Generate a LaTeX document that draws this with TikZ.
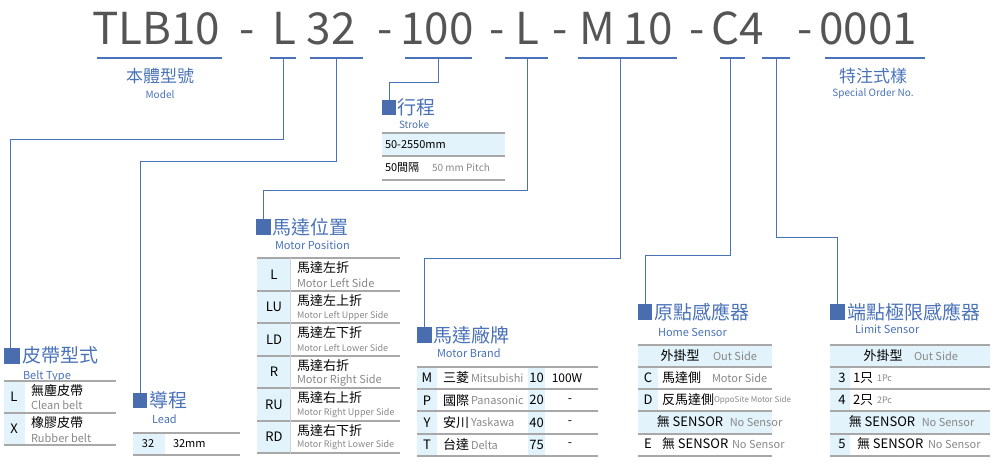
\documentclass[tikz,border=0pt]{standalone}
\usepackage{fontspec}
\setmainfont{Noto Sans CJK TC}
\begin{document}
\definecolor{bl}{HTML}{4A72B8}
\definecolor{sq}{HTML}{4A6DB0}
\definecolor{cell}{HTML}{E2F3FB}
\definecolor{rl}{HTML}{A8A8A8}
\definecolor{gt}{HTML}{888888}
\definecolor{tt}{HTML}{555555}
\begin{tikzpicture}[x=1pt,y=-1pt,
  every node/.style={inner sep=0pt,outer sep=0pt},
  ttl/.style={font=\fontsize{44}{44}\selectfont,text=tt,anchor=base},
  ul/.style={bl,line width=1.2pt},
  con/.style={bl,line width=1pt},
  head/.style={font=\fontsize{19}{19}\selectfont,text=bl,anchor=west},
  sub/.style={font=\fontsize{11}{11}\selectfont,text=bl,anchor=west},
  box/.style={fill=sq},
  rule/.style={rl,line width=1.3pt},
  tx/.style={font=\fontsize{13}{13}\selectfont,text=black},
  en/.style={font=\fontsize{11}{11}\selectfont,text=gt},
  ens/.style={font=\fontsize{9}{9}\selectfont,text=gt}]
\useasboundingbox (0,0) rectangle (1000,465);
% title
\node[ttl] (t1) at (156,45) {TLB10};
\node[ttl] (t2) at (247,45) {-};
\node[ttl] (t3) at (284,45) {L};
\node[ttl] (t4) at (331,45) {32};
\node[ttl] (t5) at (385,45) {-};
\node[ttl] (t6) at (437,45) {100};
\node[ttl] (t7) at (497,45) {-};
\node[ttl] (t8) at (527,45) {L};
\node[ttl] (t9) at (560,45) {-};
\node[ttl] (t10) at (597,45) {M};
\node[ttl] (t11) at (648,45) {10};
\node[ttl] (t12) at (697,45) {-};
\node[ttl] (t13) at (738,45) {C4};
\node[ttl] (t14) at (805,45) {-};
\node[ttl] (t15) at (868,45) {0001};
% underlines
\draw[ul] (97,58)--(222,58); \draw[ul] (270,58)--(296,58); \draw[ul] (310,58)--(363,58);
\draw[ul] (405,58)--(472,58); \draw[ul] (505,58)--(548,58); \draw[ul] (578,58)--(677,58);
\draw[ul] (720,58)--(745,58); \draw[ul] (762,58)--(790,58); \draw[ul] (825,58)--(925,58);
\node[font=\fontsize{17}{17}\selectfont,text=bl] (mdl) at (160,76) {本體型號};
\node[font=\fontsize{10}{10}\selectfont,text=bl] (mdle) at (160,95) {Model};
\node[font=\fontsize{17}{17}\selectfont,text=bl] (sp) at (873,76) {特注式樣};
\node[font=\fontsize{10}{10}\selectfont,text=bl] (spe) at (873,94) {Special Order No.};
% connectors
\coordinate (cL) at (283,58); \coordinate (c32) at (336,58); \coordinate (c100) at (438,58);
\coordinate (cL2) at (527,58); \coordinate (cM) at (620,58); \coordinate (cC) at (730,58); \coordinate (c4) at (776,58);
% Belt type
\fill[box] (4,348) rectangle (20,364); \coordinate (bt) at (10,348);
\node[head] (bth) at (22,355) {皮帶型式};
\node[sub] (bts) at (23,376) {Belt Type};
\draw[con] (cL)--(283,140)--(10,140)--(bt);
\fill[cell] (4,381) rectangle (25,445);
\draw[rule] (4,381)--(116,381) (4,413)--(116,413) (4,445)--(116,445);
\node[tx] at (14,397) {L}; \node[tx] at (14,429) {X};
\node[tx,anchor=west] at (31,391) {無塵皮帶}; \node[en,anchor=west] at (31,405) {Clean belt};
\node[tx,anchor=west] at (31,423) {橡膠皮帶}; \node[en,anchor=west] at (31,438) {Rubber belt};
% Lead
\fill[box] (133,393) rectangle (147,408); \coordinate (ld) at (140,393);
\node[head] (ldh) at (149,400) {導程}; \node[sub] (lds) at (152,419) {Lead};
\draw[con] (c32)--(336,162)--(140,162)--(ld);
\fill[cell] (133,433) rectangle (165,455);
\draw[rule] (133,433)--(240,433) (133,455)--(240,455);
\node[tx,font=\fontsize{11}{11}\selectfont] at (148,444) {32};
\node[tx,anchor=west,font=\fontsize{11}{11}\selectfont] at (173,444) {32mm};
% Stroke
\fill[box] (382,100) rectangle (396,115); \coordinate (st) at (389,100);
\node[head] (sth) at (397,107) {行程}; \node[sub,font=\fontsize{10}{10}\selectfont] (sts) at (399,125) {Stroke};
\draw[con] (c100)--(438,83)--(389,83)--(st);
\fill[cell] (382,133) rectangle (505,156);
\draw[rule] (382,133)--(505,133) (382,156)--(505,156) (382,180)--(505,180);
\node[anchor=west,font=\fontsize{11}{11}\selectfont] at (385,145) {50-2550mm};
\node[anchor=west,font=\fontsize{11}{11}\selectfont] (p50) at (385,168) {50間隔};
\node[ens,anchor=west,font=\fontsize{10}{10}\selectfont] at (432,168) {50 mm Pitch};
% Motor position
\fill[box] (256,219) rectangle (271,235); \coordinate (mp) at (263,219);
\node[head] (mph) at (272,227) {馬達位置}; \node[sub] (mps) at (275,245) {Motor Position};
\draw[con] (cL2)--(527,190)--(263,190)--(mp);
\fill[cell] (257,258) rectangle (290,453);
\foreach \y in {258,291,323,356,388,421,453} \draw[rule] (257,\y)--(400,\y);
\draw[rl!50,line width=0.8pt] (290,258)--(290,453);
\foreach \c/\a/\b/\s [count=\i from 0] in {L/馬達左折/Motor Left Side/en,LU/馬達左上折/Motor Left Upper Side/ens,LD/馬達左下折/Motor Left Lower Side/ens,R/馬達右折/Motor Right Side/en,RU/馬達右上折/Motor Right Upper Side/ens,RD/馬達右下折/Motor Right Lower Side/ens}{
  \node[tx] at (274,274.5+32.5*\i) {\c};
  \node[tx,anchor=west] at (297,268+32.5*\i) {\a};
  \node[\s,anchor=west] at (297,283+32.5*\i) {\b};}
% Motor brand
\fill[box] (417,327) rectangle (432,343); \coordinate (mb) at (424,327);
\node[head] (mbh) at (433,335) {馬達廠牌}; \node[sub] (mbs) at (437,353) {Motor Brand};
\draw[con] (cM)--(620,258)--(424,258)--(mb);
\fill[cell] (417,367) rectangle (437,456) (528,367) rectangle (545,456);
\foreach \y in {367,389,411,434,456} \draw[rule] (417,\y)--(598,\y);
\foreach \c/\z/\e/\n/\w [count=\i from 0] in {M/三菱/Mitsubishi/10/100W,P/國際/Panasonic/20/-,Y/安川/Yaskawa/40/-,T/台達/Delta/75/-}{
  \node[tx] at (427,378+22.3*\i) {\c};
  \node[tx,anchor=west] at (443,378+22.3*\i) {\z};
  \node[en,anchor=west] at (471,378+22.3*\i) {\e};
  \node[tx] at (536.5,378+22.3*\i) {\n};
  \node[tx,font=\fontsize{12}{12}\selectfont] at (\ifnum\i=0 567\else 570\fi,378+22.3*\i) {\w};}
% Home sensor
\fill[box] (638,304) rectangle (652,320); \coordinate (hs) at (645,304);
\node[head] (hsh) at (654,312) {原點感應器}; \node[sub] (hss) at (658,332) {Home Sensor};
\draw[con] (cC)--(730,255)--(645,255)--(hs);
\fill[cell] (638,345) rectangle (772,367) (638,367) rectangle (658,411) (638,411) rectangle (772,434);
\foreach \y in {345,367,389,411,434,456} \draw[rule] (638,\y)--(772,\y);
\node[tx] at (680,356) {外掛型}; \node[en] at (735,356) {Out Side};
\node[tx] at (648,378) {C}; \node[tx,anchor=west] at (662,378) {馬達側}; \node[en,anchor=west] at (712,378) {Motor Side};
\node[tx] at (648,400) {D}; \node[tx,anchor=west] at (662,400) {反馬達側}; \node[ens,anchor=west,font=\fontsize{8}{8}\selectfont] at (714,400) {OppoSite Motor Side};
\node[tx] at (690,422) {無 SENSOR}; \node[en] at (756,422) {No Sensor};
\node[tx] at (648,444) {E}; \node[tx,anchor=west] at (662,444) {無 SENSOR}; \node[en,anchor=west] at (732,444) {No Sensor};
% Limit sensor
\fill[box] (830,304) rectangle (845,320); \coordinate (ls) at (837,304);
\node[head] (lsh) at (847,312) {端點極限感應器}; \node[sub] (lss) at (855,329) {Limit Sensor};
\draw[con] (c4)--(776,237)--(837,237)--(ls);
\fill[cell] (830,345) rectangle (990,367) (830,367) rectangle (850,411) (830,411) rectangle (990,434) (830,434) rectangle (850,456);
\foreach \y in {345,367,389,411,434,456} \draw[rule] (830,\y)--(990,\y);
\node[tx] at (883,356) {外掛型}; \node[en] at (936,356) {Out Side};
\node[tx] at (842,378) {3}; \node[tx,anchor=west] at (853,378) {1只}; \node[en,anchor=west,font=\fontsize{9}{9}\selectfont] at (877,378) {1Pc};
\node[tx] at (842,400) {4}; \node[tx,anchor=west] at (853,400) {2只}; \node[en,anchor=west,font=\fontsize{9}{9}\selectfont] at (877,400) {2Pc};
\node[tx] at (882,422) {無 SENSOR}; \node[en] at (948,422) {No Sensor};
\node[tx] at (842,444) {5}; \node[tx,anchor=west] at (857,444) {無 SENSOR}; \node[en,anchor=west] at (928,444) {No Sensor};
\end{tikzpicture}
\end{document}
